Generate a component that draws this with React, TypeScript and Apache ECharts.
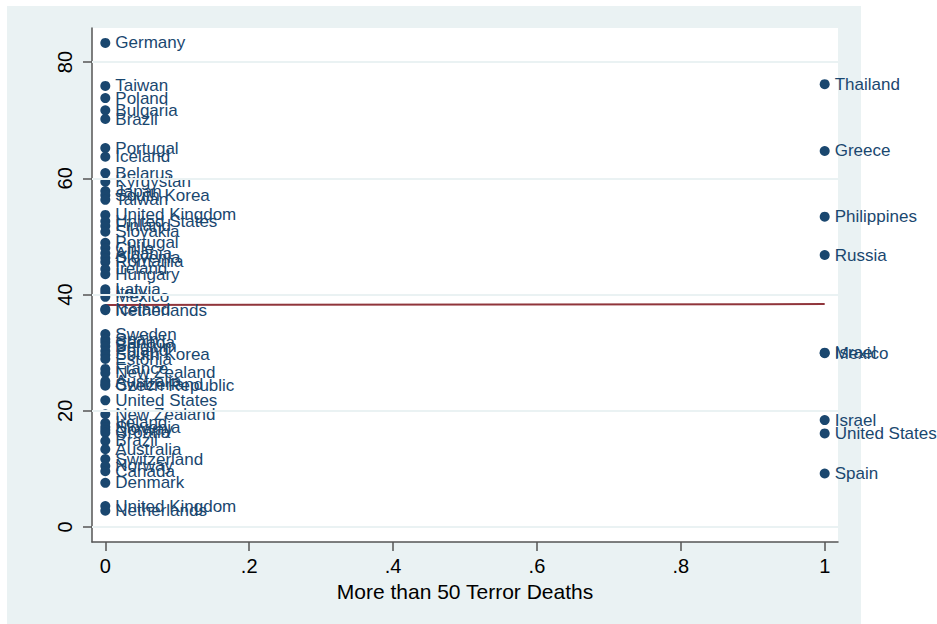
import React, { useEffect, useRef } from "react";
import * as echarts from "echarts";

// Countries with at most 50 terror deaths (x = 0)
const LOW_NAMES = [
  "Germany", "Taiwan", "Poland", "Bulgaria", "Brazil", "Portugal", "Iceland",
  "Belarus", "Kyrgystan", "Japan", "South Korea", "Taiwan", "United Kingdom",
  "United States", "Finland", "Slovakia", "Portugal", "Chile", "Albania",
  "Slovenia", "Romania", "Ireland", "Hungary", "Latvia", "Italy", "Mexico",
  "Iceland", "Netherlands", "Sweden", "Spain", "Canada", "Belgium", "Poland",
  "South Korea", "Estonia", "France", "New Zealand", "Australia", "Switzerland",
  "Czech Republic", "United States", "New Zealand", "Ireland", "Slovenia",
  "Norway", "Croatia", "Brazil", "Australia", "Switzerland", "Norway", "Canada",
  "Denmark", "United Kingdom", "Netherlands",
];
const LOW_VALUES = [
  83.3, 75.9, 73.8, 71.7, 70.2, 65.2, 63.7,
  60.9, 59.4, 57.8, 57.1, 56.3, 53.7,
  52.6, 51.8, 50.8, 48.9, 48.0, 47.1,
  46.3, 45.6, 44.4, 43.5, 40.9, 40.4, 39.6,
  37.5, 37.3, 33.2, 32.3, 31.8, 31.1, 30.3,
  29.6, 28.9, 27.2, 26.5, 25.1, 24.6,
  24.3, 21.8, 19.4, 17.9, 17.2,
  16.7, 16.2, 14.8, 13.4, 11.7, 10.5, 9.6,
  7.6, 3.6, 2.8,
];

// Countries with more than 50 terror deaths (x = 1)
const HIGH_NAMES = [
  "Thailand", "Greece", "Philippines", "Russia", "Israel", "Mexico",
  "Israel", "United States", "Spain",
];
const HIGH_VALUES = [76.2, 64.7, 53.4, 46.8, 30.0, 29.9, 18.4, 16.1, 9.2];

// Linear fit line
const FIT_X = [0, 1];
const FIT_Y = [38.2, 38.35];

const X_TICKS = [0, 0.2, 0.4, 0.6, 0.8, 1];
const X_TICK_LABELS = ["0", ".2", ".4", ".6", ".8", "1"];
const Y_TICKS = [0, 20, 40, 60, 80];
const Y_TICK_LABELS = ["0", "20", "40", "60", "80"];

const X_TITLE = "More than 50 Terror Deaths";

const NAVY = "#1a476f";
const MAROON = "#90353b";
const BG = "#eaf2f3";
const FONT = "'Liberation Sans', Arial, Helvetica, sans-serif";

function labelFor(ticks: number[], labels: string[], v: number) {
  for (let i = 0; i < ticks.length; i++) {
    if (Math.abs(ticks[i] - v) < 1e-9) return labels[i];
  }
  return "";
}

export default function App() {
  const ref = useRef<HTMLDivElement>(null);

  useEffect(() => {
    if (!ref.current) return;
    const chart = echarts.init(ref.current, undefined, { renderer: "svg" });

    const pointLabel = {
      show: true,
      position: "right",
      distance: 5,
      formatter: "{b}",
      color: NAVY,
      fontSize: 17,
      fontFamily: FONT,
    };

    chart.setOption({
      animation: false,
      backgroundColor: "#ffffff",
      graphic: [
        {
          type: "rect",
          z: -100,
          silent: true,
          shape: { x: 7, y: 6, width: 854, height: 620 },
          style: { fill: BG },
        },
      ],
      grid: {
        left: 92,
        top: 28,
        right: 99,
        bottom: 82,
        show: true,
        backgroundColor: "#ffffff",
        borderWidth: 0,
      },
      xAxis: {
        type: "value",
        min: -0.0185,
        max: 1.0185,
        name: X_TITLE,
        nameLocation: "middle",
        nameGap: 37,
        nameTextStyle: { color: "#000", fontSize: 21, fontFamily: FONT },
        axisLine: { show: true, onZero: false, lineStyle: { color: "#555", width: 1.5 } },
        axisTick: {
          show: true,
          length: 9,
          customValues: X_TICKS,
          lineStyle: { color: "#555", width: 1.5 },
        },
        axisLabel: {
          customValues: X_TICKS,
          margin: 14,
          color: "#000",
          fontSize: 20,
          fontFamily: FONT,
          formatter: (v: number) => labelFor(X_TICKS, X_TICK_LABELS, v),
        },
        splitLine: { show: false },
      },
      yAxis: {
        type: "value",
        min: -2.58,
        max: 85.86,
        axisLine: { show: true, onZero: false, lineStyle: { color: "#555", width: 1.5 } },
        axisTick: {
          show: true,
          length: 9,
          customValues: Y_TICKS,
          lineStyle: { color: "#555", width: 1.5 },
        },
        axisLabel: {
          customValues: Y_TICKS,
          rotate: 90,
          margin: 17,
          color: "#000",
          fontSize: 20,
          fontFamily: FONT,
          formatter: (v: number) => labelFor(Y_TICKS, Y_TICK_LABELS, v),
        },
        splitLine: { show: false },
      },
      series: [
        {
          type: "scatter",
          data: [],
          z: 1,
          silent: true,
          markLine: {
            silent: true,
            symbol: "none",
            label: { show: false },
            lineStyle: { color: BG, width: 2, type: "solid" },
            data: Y_TICKS.map((v) => ({ yAxis: v })),
          },
        },
        {
          type: "line",
          z: 2,
          data: FIT_X.map((x, i) => [x, FIT_Y[i]]),
          showSymbol: false,
          symbol: "none",
          lineStyle: { color: MAROON, width: 2 },
        },
        {
          type: "scatter",
          z: 3,
          symbolSize: 10,
          itemStyle: { color: NAVY, opacity: 1 },
          label: pointLabel,
          data: LOW_VALUES.map((v, i) => ({ name: LOW_NAMES[i], value: [0, v] })),
        },
        {
          type: "scatter",
          z: 3,
          symbolSize: 10,
          itemStyle: { color: NAVY, opacity: 1 },
          label: pointLabel,
          data: HIGH_VALUES.map((v, i) => ({ name: HIGH_NAMES[i], value: [1, v] })),
        },
      ],
    });

    return () => chart.dispose();
  }, []);

  return (
    <div
      ref={ref}
      style={{ position: "absolute", left: 0, top: 0, width: 937, height: 624 }}
    />
  );
}
